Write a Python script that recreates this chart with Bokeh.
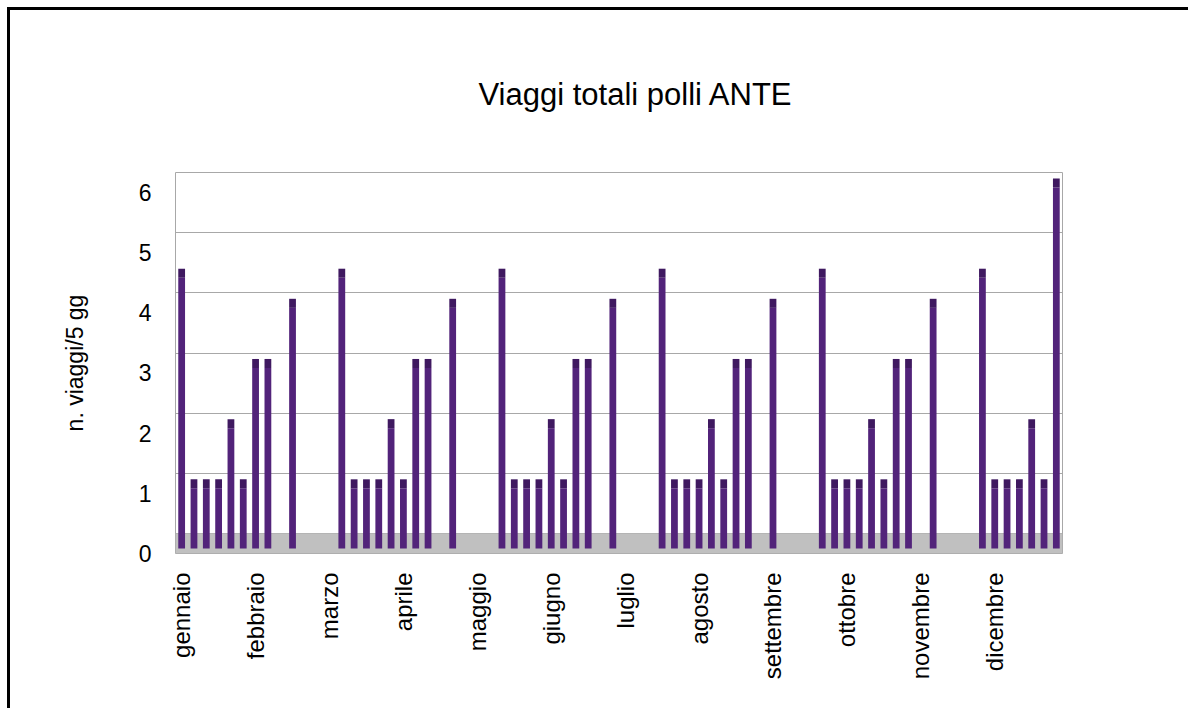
from math import pi
import numpy as np
from bokeh.plotting import figure
from bokeh.models import (Range1d, Grid, SingleIntervalTicker, FixedTicker,
                          BoxAnnotation, ColumnDataSource)
from bokeh.embed import file_html
from bokeh.resources import INLINE

# ---- data -------------------------------------------------------------
mesi = ["gennaio", "febbraio", "marzo", "aprile", "maggio", "giugno",
        "luglio", "agosto", "settembre", "ottobre", "novembre", "dicembre"]

# n. viaggi per periodo di 5 giorni (6 periodi per mese)
gennaio   = [4.5, 1, 1, 1, 2, 1]
febbraio  = [3, 3, 0, 4, 0, 0]
marzo     = [0, 4.5, 1, 1, 1, 2]
aprile    = [1, 3, 3, 0, 4, 0]
maggio    = [0, 0, 4.5, 1, 1, 1]
giugno    = [2, 1, 3, 3, 0, 4]
luglio    = [0, 0, 0, 4.5, 1, 1]
agosto    = [1, 2, 1, 3, 3, 0]
settembre = [4, 0, 0, 0, 4.5, 1]
ottobre   = [1, 1, 2, 1, 3, 3]
novembre  = [0, 4, 0, 0, 0, 4.5]
dicembre  = [1, 1, 1, 2, 1, 6]

titolo = "Viaggi totali polli ANTE"
etichetta_y = "n. viaggi/5 gg"

# ---- build ------------------------------------------------------------
per_mese = [gennaio, febbraio, marzo, aprile, maggio, giugno,
            luglio, agosto, settembre, ottobre, novembre, dicembre]
valori = np.array([v for m in per_mese for v in m], dtype=float)
n = len(valori)
periodi = len(gennaio)
xs = np.arange(n)

FONT = "Liberation Sans"
PURPLE = "#52237a"
CAP = "#3f1960"
GRID = "#a8a8a8"

cap_h = 0.15
src = ColumnDataSource(dict(
    x=xs,
    top=valori,
    cap_top=np.where(valori > 0, valori + cap_h, valori),
))

# front scale (labels): 0 -> frame bottom ; ~60.17 px / unit
front_end = 6.332
p = figure(width=1181, height=701, output_backend="svg", toolbar_location=None,
           x_range=Range1d(-0.5, n - 0.5), y_range=Range1d(0, front_end),
           min_border_left=165, min_border_right=129,
           min_border_top=162, min_border_bottom=158,
           background_fill_color="white", border_fill_color="white")

p.extra_y_ranges = {
    "back": Range1d(-0.332, front_end - 0.332),
    "barre": Range1d(-0.083, front_end - 0.083),
}

p.styles = {"border-top": "3px solid black", "border-left": "3px solid black",
            "margin-left": "7px", "margin-top": "7px"}

# title
p.title.text = titolo
p.title.align = "left"
p.title.vertical_align = "top"
p.title.text_font = FONT
p.title.text_font_size = "31px"
p.title.text_font_style = "normal"
p.title.text_color = "black"
p.title.standoff = 117
p.title.offset = 303

# outline / back wall
p.outline_line_color = GRID
p.outline_line_width = 1

p.xgrid.visible = False
p.ygrid.visible = False
p.add_layout(Grid(dimension=1, ticker=SingleIntervalTicker(interval=1),
                  y_range_name="back", grid_line_color=GRID, grid_line_width=1))

# floor
p.add_layout(BoxAnnotation(top=0, y_range_name="back", fill_color="#c0c0c0",
                           fill_alpha=1, line_color=None, level="underlay"))

# bars
p.vbar(x="x", top="top", bottom=0, width=0.55, source=src,
       y_range_name="barre", fill_color=PURPLE, line_color=None)
p.vbar(x="x", top="cap_top", bottom="top", width=0.55, source=src,
       y_range_name="barre", fill_color=CAP, line_color=None)

# y axis
ya = p.yaxis[0]
ya.ticker = SingleIntervalTicker(interval=1)
ya.axis_line_color = None
ya.major_tick_line_color = None
ya.minor_tick_line_color = None
ya.major_label_text_font = FONT
ya.major_label_text_font_size = "23px"
ya.major_label_text_color = "black"
ya.major_label_standoff = 18
ya.axis_label = etichetta_y
ya.axis_label_text_font = FONT
ya.axis_label_text_font_size = "23px"
ya.axis_label_text_font_style = "normal"
ya.axis_label_text_color = "black"
ya.axis_label_standoff = 48

# x axis
xa = p.xaxis[0]
ticks = [i * periodi for i in range(len(mesi))]
xa.ticker = FixedTicker(ticks=ticks)
xa.major_label_overrides = {t: m for t, m in zip(ticks, mesi)}
xa.major_label_orientation = pi / 2
xa.axis_line_color = None
xa.major_tick_line_color = None
xa.minor_tick_line_color = None
xa.major_label_text_font = FONT
xa.major_label_text_font_size = "24px"
xa.major_label_text_color = "black"
xa.major_label_standoff = 13

open("out.html", "w").write(file_html(p, INLINE))
